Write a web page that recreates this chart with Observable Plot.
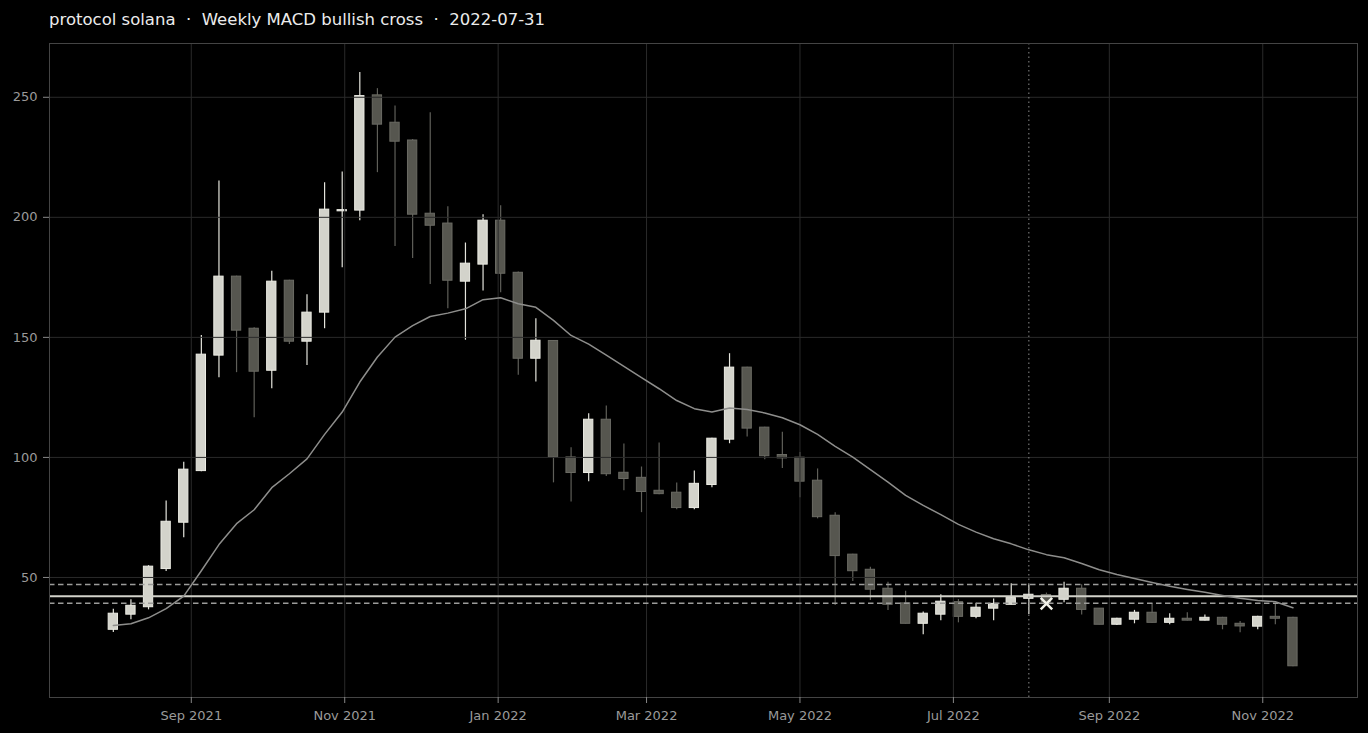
<!DOCTYPE html>
<html><head><meta charset="utf-8">
<script src="https://cdn.jsdelivr.net/npm/d3@7"></script>
<script src="https://cdn.jsdelivr.net/npm/@observablehq/plot@0.6"></script>
<style>
html,body{margin:0;padding:0;background:#000;overflow:hidden;}
#title{position:relative;height:38px;}
#title span{position:absolute;left:49px;top:10px;font-family:"DejaVu Sans";font-size:16.5px;color:#ececec;white-space:pre;line-height:20px;}
</style></head><body>
<div id="title"><span>protocol solana  ·  Weekly MACD bullish cross  ·  2022-07-31</span></div>
<div id="chart"></div>
<script>
const dates = ["2021-08-01","2021-08-08","2021-08-15","2021-08-22","2021-08-29","2021-09-05","2021-09-12","2021-09-19","2021-09-26","2021-10-03","2021-10-10","2021-10-17","2021-10-24","2021-10-31","2021-11-07","2021-11-14","2021-11-21","2021-11-28","2021-12-05","2021-12-12","2021-12-19","2021-12-26","2022-01-02","2022-01-09","2022-01-16","2022-01-23","2022-01-30","2022-02-06","2022-02-13","2022-02-20","2022-02-27","2022-03-06","2022-03-13","2022-03-20","2022-03-27","2022-04-03","2022-04-10","2022-04-17","2022-04-24","2022-05-01","2022-05-08","2022-05-15","2022-05-22","2022-05-29","2022-06-05","2022-06-12","2022-06-19","2022-06-26","2022-07-03","2022-07-10","2022-07-17","2022-07-24","2022-07-31","2022-08-07","2022-08-14","2022-08-21","2022-08-28","2022-09-04","2022-09-11","2022-09-18","2022-09-25","2022-10-02","2022-10-09","2022-10-16","2022-10-23","2022-10-30","2022-11-06","2022-11-13"];
const opens  = [28.2,34.5,37.6,53.5,72.8,94.3,142.4,175.3,153.6,136.1,173.6,148.2,160.3,202.5,202.8,250.8,239.4,232.0,201.5,197.4,173.2,180.3,198.6,176.9,141.1,148.5,100.0,93.5,115.7,93.6,91.5,86.1,85.3,78.9,88.5,107.4,137.4,112.4,101.0,99.9,90.3,75.7,59.5,53.2,45.3,39.2,30.7,34.5,39.7,33.6,37.0,38.6,41.1,42.7,40.7,45.3,37.0,30.3,32.4,35.3,31.1,32.8,32.0,33.2,30.7,29.5,33.6,33.2];
const highs  = [36.8,40.7,54.9,81.8,98.0,150.8,215.1,175.5,154.0,177.5,173.8,167.8,214.4,218.9,260.3,253.6,246.4,232.4,243.6,204.4,189.3,201.1,204.8,177.2,157.8,148.6,104.0,118.2,121.4,105.6,96.0,106.0,89.3,94.3,108.0,143.2,137.6,112.6,110.5,102.0,95.2,77.0,59.7,54.3,48.0,44.3,35.6,42.8,40.8,39.3,41.0,47.4,47.0,43.5,48.0,47.0,37.0,33.0,36.3,39.0,34.9,35.3,34.4,33.4,31.7,33.8,39.0,33.4];
const lows   = [27.1,32.4,36.5,52.5,66.5,94.0,133.2,135.3,116.5,128.6,147.0,138.3,153.6,179.0,198.6,218.6,187.8,182.8,172.0,161.9,148.8,169.3,168.6,134.2,131.4,89.4,81.4,89.9,92.0,86.1,77.0,84.4,78.2,78.2,87.4,105.7,108.5,99.0,95.4,83.2,74.4,38.3,48.3,40.4,36.2,30.6,26.1,32.0,31.1,32.8,32.0,38.5,34.6,39.0,39.5,34.4,30.3,30.0,30.7,31.0,30.3,31.9,31.9,28.2,27.0,28.2,30.3,12.8];
const closes = [34.9,38.2,54.5,73.2,94.9,142.8,175.3,152.8,135.7,173.2,148.2,160.3,203.2,203.0,250.5,238.6,231.5,201.1,196.5,173.6,180.7,198.6,176.5,141.1,148.6,100.1,93.5,115.7,93.0,91.0,85.6,84.7,78.9,89.0,107.8,137.4,112.0,100.5,99.6,89.9,75.1,58.9,52.6,44.9,38.6,30.7,34.9,39.9,33.6,37.4,39.0,41.4,42.8,39.6,45.3,36.5,30.3,32.8,35.3,31.1,32.8,32.0,33.2,30.3,29.6,33.6,32.8,13.0];
const movingAvg = [30.0,30.7,33.2,37.0,42.2,52.8,63.7,72.4,78.2,87.4,93.2,99.4,109.6,118.9,131.4,141.8,150.1,154.9,158.7,160.1,161.9,165.7,166.5,164.0,162.5,157.1,150.8,147.2,142.6,137.9,133.2,128.6,123.7,120.3,118.9,120.6,120.0,118.5,116.5,113.6,109.6,104.6,100.1,94.9,89.7,84.2,80.0,76.2,72.1,68.9,66.1,64.0,61.5,59.5,58.2,55.8,53.2,51.2,49.6,47.9,46.3,45.0,43.8,42.5,41.3,40.4,39.9,37.4];
const levelMid = [42.2];
const levelBand = [47.1, 39.3];
const signalDate = ["2022-07-31"];
const crossDate = ["2022-08-07"];
const crossPrice = [39.1];
const yTicks = [50,100,150,200,250];
const xTicks = ["2021-09-01","2021-11-01","2022-01-01","2022-03-01","2022-05-01","2022-07-01","2022-09-01","2022-11-01"];

const DAY = 864e5;
const data = dates.map((d,i)=>({date:new Date(d),open:opens[i],high:highs[i],low:lows[i],close:closes[i],ma:movingAvg[i]}));
const up = data.filter(d=>d.close>=d.open);
const down = data.filter(d=>d.close<d.open);
const half = 1.85*DAY;
const xTickDates = xTicks.map(d=>new Date(d));

const chart = Plot.plot({
  width:1368, height:695,
  marginTop:5, marginBottom:36, marginLeft:49, marginRight:11,
  style:{background:"#000", color:"#9a9a9a", fontFamily:"DejaVu Sans", fontSize:"13px"},
  x:{type:"utc", domain:[new Date("2021-07-06T15:00Z"), new Date("2022-12-08T16:00Z")]},
  y:{domain:[0,272.4]},
  marks:[
    Plot.ruleX(down,{x:"date",y1:"low",y2:"high",stroke:"#5f5f59",strokeWidth:1.2}),
    Plot.ruleX(up,{x:"date",y1:"low",y2:"high",stroke:"#e4e4dc",strokeWidth:1.2}),
    Plot.rect(down,{x1:d=>new Date(+d.date-half),x2:d=>new Date(+d.date+half),y1:"open",y2:"close",fill:"#56564f",stroke:"#6b6b64",strokeWidth:1,inset:0}),
    Plot.rect(up,{x1:d=>new Date(+d.date-half),x2:d=>new Date(+d.date+half),y1:"open",y2:"close",fill:"#d3d3cb",stroke:"#ececE4",strokeWidth:1,inset:0}),
    Plot.ruleY(yTicks,{stroke:"#2a2a2a",strokeWidth:1}),
    Plot.ruleX(xTickDates,{stroke:"#2a2a2a",strokeWidth:1}),
    Plot.ruleY(levelBand,{stroke:"#9c9c9a",strokeWidth:1.5,strokeDasharray:"5.5,3.5"}),
    Plot.ruleY(levelMid,{stroke:"#d2d2ca",strokeWidth:2}),
    Plot.line(data,{x:"date",y:"ma",stroke:"#8e8e8c",strokeWidth:1.5}),
    Plot.ruleX(signalDate.map(d=>new Date(d)),{stroke:"#8a8a8a",strokeWidth:1,strokeDasharray:"1.5,3"}),
    Plot.dot(crossDate.map((d,i)=>({date:new Date(d),price:crossPrice[i]})),{x:"date",y:"price",symbol:"times",r:5.3,stroke:"#f2f2ea",strokeWidth:2.5}),
    Plot.frame({stroke:"#444"}),
    Plot.axisY(yTicks,{tickSize:6,tickPadding:6,stroke:"#888",fill:"#9a9a9a"}),
    Plot.axisX(xTickDates,{tickSize:6,tickPadding:7,tickFormat:d3.utcFormat("%b %Y"),stroke:"#888",fill:"#9a9a9a"})
  ]
});
document.getElementById("chart").appendChild(chart);
</script>
</body></html>
